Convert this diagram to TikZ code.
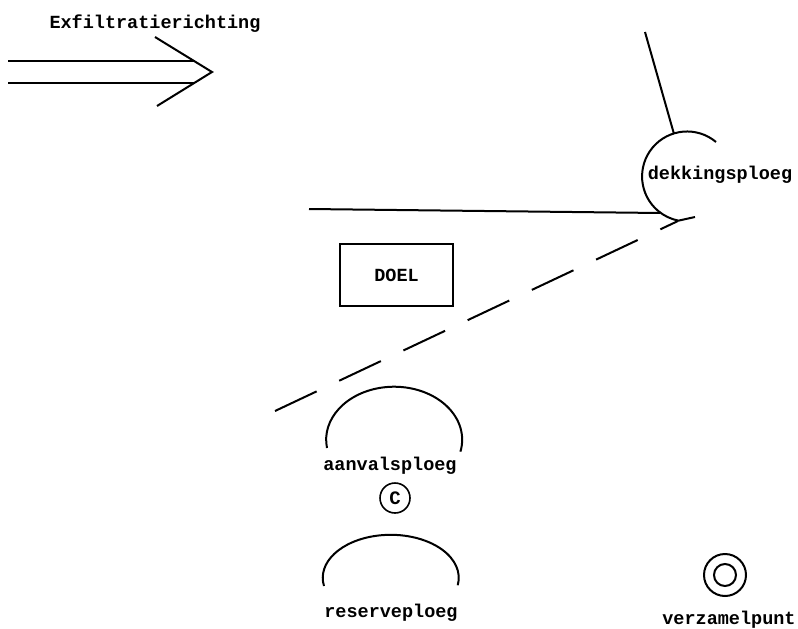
\documentclass[tikz,border=0pt]{standalone}
\usepackage{fontspec}
\setmonofont{Liberation Mono}
\begin{document}
\begin{tikzpicture}[x=1pt, y=-1pt, line width=2pt,
    lbl/.style={font=\ttfamily\bfseries\fontsize{18.5}{22}\selectfont, inner sep=0pt, anchor=base},
    doelbox/.style={draw, font=\ttfamily\bfseries\fontsize{18.5}{22}\selectfont, minimum width=113pt, minimum height=62pt},
    grens/.style={dash pattern=on 46pt off 25pt}]
    \useasboundingbox (0,0) rectangle (798,629);
    \node[lbl] (richting) at (155,28) {Exfiltratierichting};
    \coordinate (tip) at (212,72);
    \coordinate (barbA) at (155,37);
    \coordinate (barbB) at (157,106);
    \coordinate (staartA) at (8,61);
    \coordinate (staartB) at (8,83);
    \draw (barbA) -- (tip) -- (barbB);
    \draw (staartA) -- (194,61);
    \draw (staartB) -- (194,83);
    \node[lbl] (dekking) at (720,179) {dekkingsploeg};
    \coordinate (dekTop) at (674,134);
    \coordinate (dekLinks) at (660,213);
    \coordinate (dekOnder) at (678,221);
    \draw (716,142) arc[start angle=50, end angle=259, radius=45pt] -- (695,217);
    \draw (645,32) -- (dekTop);
    \draw (309,209) -- (dekLinks);
    \draw[grens] (275,411) -- (dekOnder);
    \node[doelbox] (doel) at (396.5,275) {DOEL};
    \draw (327,448) arc[start angle=189, end angle=-13, x radius=68pt, y radius=53pt];
    \node[lbl] (aanval) at (390,470) {aanvalsploeg};
    \node[draw, circle, minimum size=30pt, inner sep=0pt, line width=1.6pt,
        font=\ttfamily\bfseries\fontsize{19}{22}\selectfont] (commando) at (395,498) {C};
    \draw (324,586) arc[start angle=191, end angle=-10, x radius=68pt, y radius=43pt];
    \node[lbl] (reserve) at (391,617) {reserveploeg};
    \draw (725,575) circle (21pt);
    \draw (725,575) circle (11pt);
    \node[lbl] (verzamel) at (729,624) {verzamelpunt};
  \end{tikzpicture}
\end{document}
